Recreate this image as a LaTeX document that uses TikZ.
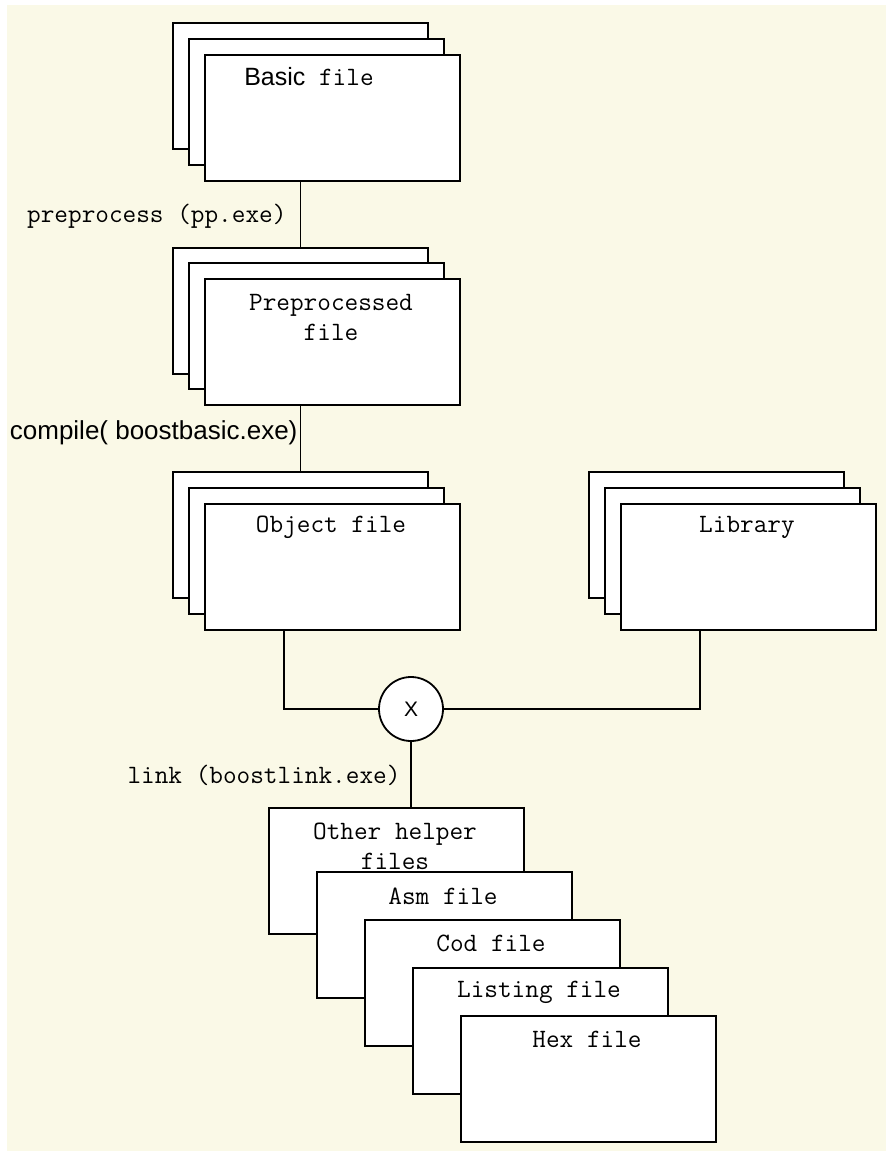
\documentclass[tikz,border=0pt]{standalone}
\usepackage{fontspec}
\setsansfont{Liberation Sans}
\usepackage{tikz}
\usetikzlibrary{calc}
\definecolor{paper}{RGB}{250,249,231}

\begin{document}
\begin{tikzpicture}[x=1pt, y=-1pt,
    sheet/.style={draw, fill=white, line width=1.8pt, minimum width=255pt,
        minimum height=126pt, inner sep=0pt, anchor=north west},
    mono/.style={font=\fontsize{26.5}{30}\selectfont\ttfamily},
    sans/.style={font=\fontsize{26}{30}\selectfont\sffamily},
    wire/.style={line width=1.8pt}]
    \fill[white] (0,0) rectangle (886,1151);
    \fill[paper] (7,5) rectangle (886,1151);

    % basic file
    \node[sheet] (basic1) at (172,22) {};
    \node[sheet] (basic2) at (188,38) {};
    \node[sheet] (basic3) at (204,54) {};
    \node[mono] (basictxt) at (309,77) {{\fontsize{25}{30}\selectfont\sffamily Basic} file};

    % preprocessed file
    \node[sheet] (pp1) at (172,247) {};
    \node[sheet] (pp2) at (188,262) {};
    \node[sheet] (pp3) at (204,278) {};
    \node[mono, align=center] (pptxt) at (331,317) {Preprocessed\\file};

    % object file
    \node[sheet] (obj1) at (172,471) {};
    \node[sheet] (obj2) at (188,487) {};
    \node[sheet] (obj3) at (204,503) {};
    \node[mono] (objtxt) at (331,527) {Object file};

    % library
    \node[sheet] (lib1) at (588,471) {};
    \node[sheet] (lib2) at (604,487) {};
    \node[sheet] (lib3) at (620,503) {};
    \node[mono] (libtxt) at (747,527) {Library};

    % linker
    \node[draw, fill=white, circle, line width=1.8pt, minimum size=64pt, inner sep=0pt,
        font=\fontsize{21}{24}\selectfont\sffamily] (lnk) at (411,709) {X};

    % output files
    \node[sheet] (other) at (268,807) {};
    \node[mono, align=center] (othertxt) at (395,846) {Other helper\\files};
    \node[sheet] (asm) at (316,871) {};
    \node[mono] (asmtxt) at (443,896) {Asm file};
    \node[sheet] (cod) at (364,919) {};
    \node[mono] (codtxt) at (491,943) {Cod file};
    \node[sheet] (lst) at (412,967) {};
    \node[mono] (lsttxt) at (539,992) {Listing file};
    \node[sheet] (hex) at (460,1015) {};
    \node[mono] (hextxt) at (587,1039) {Hex file};

    % steps
    \draw[wire] (pp1.north) -- (pp1.north |- basic3.south);
    \node[mono, anchor=east] (pplbl) at (290,216) {preprocess (pp.exe)};
    \draw[wire] (obj1.north) -- (obj1.north |- pp3.south);
    \node[sans, anchor=east] (cclbl) at (301,433) {compile( boostbasic.exe)};
    \coordinate (objout) at ($(obj3.south west)+(80,0)$);
    \coordinate (libout) at ($(lib3.south west)+(80,0)$);
    \draw[wire] (objout) |- (lnk.west);
    \draw[wire] (libout) |- (lnk.east);
    \draw[wire] (lnk.south) -- (lnk.south |- other.north);
    \node[mono, anchor=east] (lnklbl) at (404,775) {link (boostlink.exe)};
\end{tikzpicture}
\end{document}
